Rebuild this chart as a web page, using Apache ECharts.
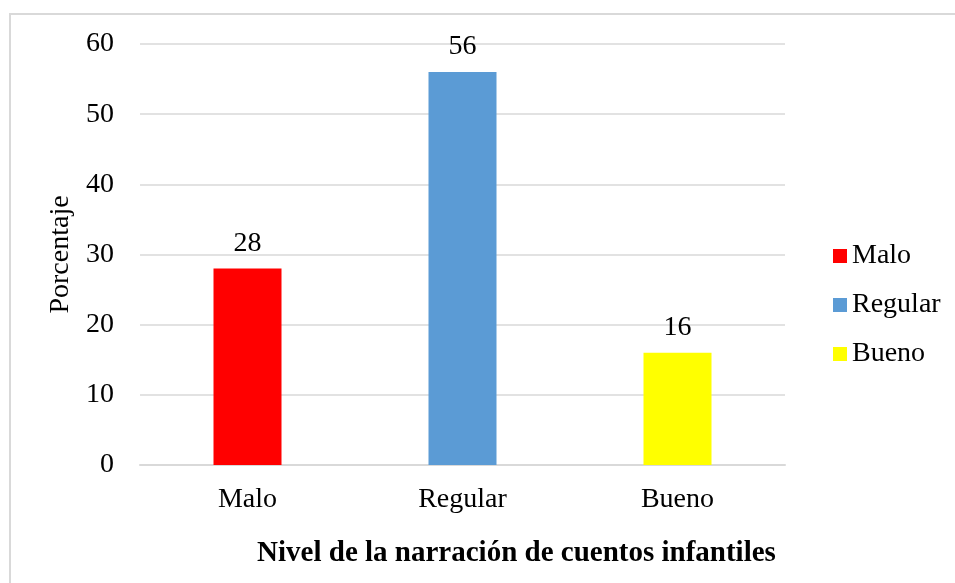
<!DOCTYPE html>
<html>
<head>
<meta charset="utf-8">
<script src="https://cdn.jsdelivr.net/npm/echarts@6/dist/echarts.min.js"></script>
<style>
html,body{margin:0;padding:0;background:#fff;}
#canvas{width:955px;height:583px;}
</style>
</head>
<body>
<div id="canvas"></div>
<script>
var categories = ['Malo', 'Regular', 'Bueno'];
var values = [28, 56, 16];
var colors = ['#ff0000', '#5b9bd5', '#ffff00'];
var yTicks = [0, 10, 20, 30, 40, 50, 60];

var dom = document.getElementById('canvas');
var myChart = echarts.init(dom);
var font = '"Liberation Serif", "Times New Roman", serif';

var series = categories.map(function (name, i) {
    var d = categories.map(function (c, j) { return j === i ? values[i] : '-'; });
    return {
        name: name,
        type: 'bar',
        data: d,
        barWidth: 68,
        barGap: '-100%',
        itemStyle: { color: colors[i] },
        label: {
            show: true,
            position: 'top',
            distance: 11,
            color: '#000',
            fontSize: 28,
            fontFamily: font
        }
    };
});

var option = {
    animation: false,
    graphic: [{
        type: 'rect',
        shape: { x: 10, y: 14, width: 1000, height: 700 },
        style: { fill: 'none', stroke: '#d9d9d9', lineWidth: 2 },
        silent: true
    }],
    grid: { left: 140, right: 170, top: 44, bottom: 118 },
    legend: {
        orient: 'vertical',
        left: 828,
        top: 237,
        itemWidth: 14,
        itemHeight: 14,
        itemGap: 21,
        icon: 'rect',
        textStyle: { fontSize: 28, lineHeight: 28, fontFamily: font, color: '#000' },
        data: categories
    },
    xAxis: {
        type: 'category',
        data: categories,
        name: 'Nivel de la narración de cuentos infantiles',
        nameLocation: 'middle',
        nameGap: 74,
        nameTextStyle: {
            fontSize: 29, fontWeight: 'bold', fontFamily: font, color: '#000',
            padding: [0, 0, 0, 108]
        },
        axisLine: { lineStyle: { color: '#d9d9d9', width: 2 } },
        axisTick: { show: false },
        axisLabel: { fontSize: 28, fontFamily: font, color: '#000', margin: 21 }
    },
    yAxis: {
        type: 'value',
        min: yTicks[0],
        max: yTicks[yTicks.length - 1],
        interval: 10,
        name: 'Porcentaje',
        nameLocation: 'middle',
        nameGap: 62,
        nameTextStyle: { fontSize: 28, fontFamily: font, color: '#000' },
        axisLine: { show: false },
        axisTick: { show: false },
        axisLabel: { fontSize: 28, fontFamily: font, color: '#000', margin: 26 },
        splitLine: { lineStyle: { color: '#d9d9d9', width: 1.5 } }
    },
    series: series
};

myChart.setOption(option, true);
</script>
</body>
</html>
